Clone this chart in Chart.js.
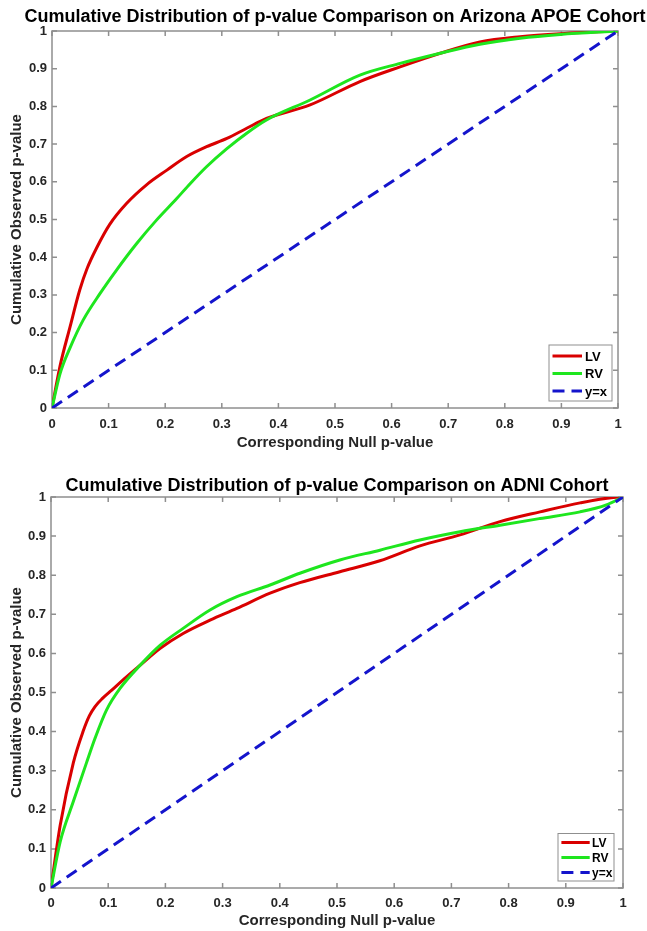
<!DOCTYPE html>
<html>
<head>
<meta charset="utf-8">
<title>Cumulative Distribution of p-value Comparison</title>
<script src="https://cdn.jsdelivr.net/npm/chart.js@4.4.0/dist/chart.umd.min.js"></script>
<style>
  html, body { margin: 0; padding: 0; background: #fff; }
  #wrap { position: relative; width: 647px; height: 931px; }
  canvas { position: absolute; left: 0; }
</style>
</head>
<body>
<div id="wrap">
  <canvas id="chartArizona" width="647" height="465" style="top:0"></canvas>
  <canvas id="chartAdni" width="647" height="466" style="top:465px"></canvas>
</div>
<script>
  // Arizona APOE cohort (top panel)
  const arizonaLvX = [0, 0.014, 0.032, 0.049, 0.062, 0.079, 0.102, 0.132, 0.167, 0.203, 0.238, 0.273, 0.309, 0.344, 0.379, 0.456, 0.544, 0.615, 0.686, 0.756, 0.827, 0.898, 1];
  const arizonaLvY = [0, 0.11, 0.216, 0.313, 0.37, 0.425, 0.487, 0.543, 0.592, 0.631, 0.667, 0.693, 0.715, 0.742, 0.768, 0.804, 0.866, 0.905, 0.941, 0.971, 0.985, 0.993, 1];
  const arizonaRvX = [0, 0.014, 0.032, 0.055, 0.085, 0.114, 0.150, 0.185, 0.220, 0.244, 0.273, 0.309, 0.344, 0.379, 0.456, 0.544, 0.615, 0.686, 0.756, 0.827, 0.898, 1];
  const arizonaRvY = [0, 0.09, 0.16, 0.233, 0.304, 0.366, 0.437, 0.499, 0.555, 0.595, 0.640, 0.688, 0.729, 0.764, 0.817, 0.883, 0.914, 0.941, 0.965, 0.981, 0.991, 1];

  // ADNI cohort (bottom panel)
  const adniLvX = [0, 0.016, 0.039, 0.056, 0.067, 0.077, 0.090, 0.103, 0.132, 0.156, 0.191, 0.231, 0.278, 0.325, 0.383, 0.435, 0.505, 0.575, 0.645, 0.715, 0.785, 0.855, 0.925, 0.983, 1];
  const adniLvY = [0, 0.16, 0.32, 0.40, 0.44, 0.464, 0.485, 0.502, 0.540, 0.570, 0.613, 0.651, 0.685, 0.715, 0.754, 0.781, 0.809, 0.837, 0.875, 0.903, 0.937, 0.962, 0.985, 0.999, 1];
  const adniRvX = [0, 0.016, 0.039, 0.062, 0.077, 0.097, 0.121, 0.156, 0.191, 0.231, 0.278, 0.325, 0.383, 0.435, 0.505, 0.575, 0.645, 0.715, 0.785, 0.855, 0.925, 0.971, 1];
  const adniRvY = [0, 0.118, 0.221, 0.32, 0.383, 0.455, 0.511, 0.570, 0.621, 0.664, 0.711, 0.745, 0.775, 0.805, 0.839, 0.864, 0.890, 0.911, 0.928, 0.945, 0.962, 0.980, 1];

  // reference line y = x
  const diagonal = [0, 1];

  const FAMILY = '"Liberation Sans", Arial, Helvetica, sans-serif';
  const TEXT = '#262626';
  const AXIS_GRAY = '#8f8f8f';
  const RED = '#d90000';
  const GREEN = '#1ee61e';
  const BLUE = '#1414cc';

  const toPts = (xs, ys) => xs.map((x, i) => ({ x: x, y: ys[i] }));
  const fmtTick = v => String(Math.round(v * 10) / 10);

  // title centred over the plot area (wider than the plot itself)
  const titlePlugin = {
    id: 'plotTitle',
    afterDraw(chart, args, o) {
      const { ctx, chartArea: a } = chart;
      ctx.save();
      ctx.fillStyle = '#000';
      ctx.font = 'bold 18px ' + FAMILY;
      ctx.textAlign = 'center';
      ctx.textBaseline = 'middle';
      ctx.fillText(o.text, (a.left + a.right) / 2, o.y);
      ctx.restore();
    }
  };

  // box round the plot with inward ticks on all four sides
  const framePlugin = {
    id: 'frame',
    beforeDatasetsDraw(chart) {
      const { ctx, chartArea: a, scales } = chart;
      ctx.save();
      ctx.strokeStyle = AXIS_GRAY;
      ctx.lineWidth = 1.5;
      ctx.strokeRect(a.left, a.top, a.right - a.left, a.bottom - a.top);
      ctx.beginPath();
      scales.x.ticks.forEach(t => {
        const px = scales.x.getPixelForValue(t.value);
        ctx.moveTo(px, a.bottom); ctx.lineTo(px, a.bottom - 5);
        ctx.moveTo(px, a.top); ctx.lineTo(px, a.top + 5);
      });
      scales.y.ticks.forEach(t => {
        const py = scales.y.getPixelForValue(t.value);
        ctx.moveTo(a.left, py); ctx.lineTo(a.left + 5, py);
        ctx.moveTo(a.right, py); ctx.lineTo(a.right - 5, py);
      });
      ctx.stroke();
      ctx.restore();
    }
  };

  // legend box inside the lower right corner
  const legendPlugin = {
    id: 'cdfLegend',
    afterDraw(chart, args, o) {
      const { ctx, chartArea: a } = chart;
      const left = a.right - o.right - o.width;
      const top = a.bottom - o.bottom - o.height;
      ctx.save();
      ctx.fillStyle = '#fff';
      ctx.fillRect(left, top, o.width, o.height);
      ctx.strokeStyle = AXIS_GRAY;
      ctx.lineWidth = 1;
      ctx.strokeRect(left, top, o.width, o.height);
      chart.data.datasets.forEach((ds, i) => {
        const cy = top + o.firstRow + i * o.rowGap;
        ctx.strokeStyle = ds.borderColor;
        ctx.lineWidth = ds.borderWidth;
        ctx.setLineDash(ds.borderDash || []);
        ctx.beginPath();
        ctx.moveTo(left + o.lineStart, cy);
        ctx.lineTo(left + o.lineEnd, cy);
        ctx.stroke();
        ctx.setLineDash([]);
        ctx.fillStyle = '#000';
        ctx.font = 'bold ' + o.fontSize + 'px ' + FAMILY;
        ctx.textBaseline = 'middle';
        ctx.fillText(ds.label, left + o.textX, cy + 1);
      });
      ctx.restore();
    }
  };

  function buildChart(id, titleText, lvX, lvY, rvX, rvY, cfg) {
    const tickFont = { family: FAMILY, size: 13, weight: 'bold' };
    const titleFont = { family: FAMILY, size: 15, weight: 'bold' };
    return new Chart(document.getElementById(id), {
      type: 'line',
      data: {
        datasets: [
          { label: 'LV', data: toPts(lvX, lvY), borderColor: RED, borderWidth: 3, order: 2 },
          { label: 'RV', data: toPts(rvX, rvY), borderColor: GREEN, borderWidth: 3, order: 1 },
          { label: 'y=x', data: toPts(diagonal, diagonal), borderColor: BLUE, borderWidth: 3, borderDash: [12, 7], order: 0 }
        ]
      },
      options: {
        responsive: false,
        animation: false,
        elements: {
          point: { radius: 0 },
          line: { cubicInterpolationMode: 'monotone', fill: false }
        },
        layout: { padding: { top: cfg.areaTop, right: cfg.padRight, bottom: 0, left: 0 } },
        plugins: {
          legend: { display: false },
          tooltip: { enabled: false },
          title: { display: false },
          plotTitle: { text: titleText, y: cfg.titleY },
          cdfLegend: cfg.legend
        },
        scales: {
          x: {
            type: 'linear',
            min: 0,
            max: 1,
            ticks: { stepSize: 0.1, color: TEXT, font: tickFont, padding: cfg.xTickPad, maxRotation: 0, autoSkip: false, callback: fmtTick },
            grid: { display: false, drawTicks: false },
            border: { display: false },
            title: { display: true, text: 'Corresponding Null p-value', color: TEXT, font: titleFont, padding: { top: 0, bottom: cfg.xTitleBottom } },
            afterFit: s => { s.height = cfg.xHeight; }
          },
          y: {
            type: 'linear',
            min: 0,
            max: 1,
            ticks: { stepSize: 0.1, color: TEXT, font: tickFont, padding: 5, callback: fmtTick },
            grid: { display: false, drawTicks: false },
            border: { display: false },
            title: { display: true, text: 'Cumulative Observed p-value', color: TEXT, font: titleFont, padding: { top: 8, bottom: 0 } },
            afterFit: s => { s.width = cfg.yWidth; }
          }
        }
      },
      plugins: [framePlugin, legendPlugin, titlePlugin]
    });
  }

  buildChart('chartArizona', 'Cumulative Distribution of p-value Comparison on Arizona APOE Cohort',
    arizonaLvX, arizonaLvY, arizonaRvX, arizonaRvY, {
      areaTop: 31, padRight: 29, yWidth: 52, xHeight: 57, xTickPad: 9, xTitleBottom: 13,
      titleY: 17.5,
      legend: { width: 63, height: 56, right: 6, bottom: 7, firstRow: 11, rowGap: 17.5, lineStart: 3.5, lineEnd: 33, textX: 36, fontSize: 13 }
    });

  buildChart('chartAdni', 'Cumulative Distribution of p-value Comparison on ADNI Cohort',
    adniLvX, adniLvY, adniRvX, adniRvY, {
      areaTop: 32, padRight: 24, yWidth: 51, xHeight: 43, xTickPad: 7.4, xTitleBottom: 1.2,
      titleY: 21.5,
      legend: { width: 56, height: 47.5, right: 9, bottom: 7, firstRow: 9, rowGap: 15, lineStart: 3.4, lineEnd: 31.7, textX: 34, fontSize: 12 }
    });
</script>
</body>
</html>
